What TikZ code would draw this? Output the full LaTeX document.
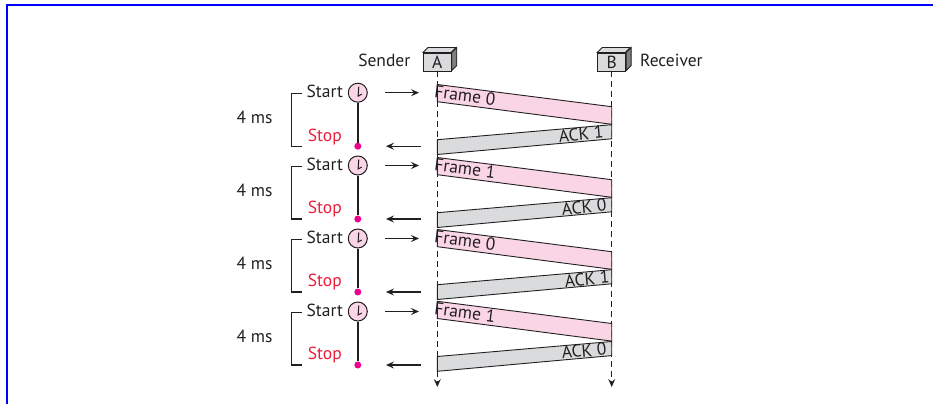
\documentclass[tikz,border=0pt]{standalone}
\usepackage{fontspec}
\setmainfont{PT Sans}
\usetikzlibrary{calc,arrows.meta}
\definecolor{inkdark}{HTML}{231F20}
\definecolor{framepink}{HTML}{F9D5E5}
\definecolor{ackgray}{HTML}{D9DBDC}
\definecolor{dotpink}{HTML}{EC008C}
\definecolor{stopred}{HTML}{ED1C3A}
\tikzset{
  lbl/.style={font=\fontsize{17.5}{20}\selectfont,text=inkdark,inner sep=0},
  station/.style={lbl,draw=inkdark,fill=ackgray,line width=0.9pt,minimum width=28pt,minimum height=18pt},
  band/.style={draw=inkdark,line width=0.9pt},
  wire/.style={draw=inkdark,line width=1.4pt},
  tip/.style={-{Stealth[length=8pt,width=7pt,inset=3pt]}},
  lifeline/.style={draw=inkdark,line width=0.9pt,dash pattern=on 6pt off 4pt,tip},
  timer/.style={circle,draw=inkdark,fill=framepink,line width=1pt,minimum size=19pt,inner sep=0},
  stopdot/.style={circle,fill=dotpink,minimum size=7pt,inner sep=0},
}
\begin{document}
\begin{tikzpicture}[x=1pt,y=-1pt]
  \useasboundingbox (0,0) rectangle (933,404);
  \coordinate (frameA) at (7,404);
  \coordinate (frameB) at (7,5);
  \coordinate (frameC) at (933,5);
  \draw[blue,line width=2pt] (frameA) -- (frameB) -- (frameC);
  \node[station] (A) at (437.3,62) {A};
  \node[station] (B) at (611.7,62) {B};
  \foreach \s in {A,B} {
    \fill[ackgray,draw=inkdark,line width=0.9pt] (\s.north west) -- ++(5,-5) -- ++(28,0) -- ++(-5,5) -- cycle;
    \fill[gray,draw=inkdark,line width=0.9pt] (\s.north east) -- ++(5,-5) -- ++(0,18) -- ++(-5,5) -- cycle;
  }
  \node[lbl,anchor=east] (sender) at (410.5,60.5) {Sender};
  \node[lbl,anchor=west] (receiver) at (640,60.5) {Receiver};
  \coordinate (Aend) at (437.3,387);
  \coordinate (Bend) at (611.7,387);
  \draw[lifeline] (A) -- (Aend);
  \draw[lifeline] (B) -- (Bend);
  \foreach \i/\t/\b/\f/\k/\ax in {1/92.7/92.5/Frame 0/ACK 1/581,2/165.5/165.5/Frame 1/ACK 0/584,3/238.5/237.5/Frame 0/ACK 1/587,4/311.5/309.3/Frame 1/ACK 0/584} {
    \fill[framepink,band] (437.3,\b-8) -- (611.7,\b+14.2) -- (611.7,\b+31.8) -- (437.3,\b+9.2) -- cycle;
    \fill[ackgray,band] (437.3,\b+47.2) -- (611.7,\b+32.2) -- (611.7,\b+46.3) -- (437.3,\b+62) -- cycle;
    \node[lbl,rotate=-7.3] (frame\i) at (465,\b+3) {\f};
    \node[lbl,rotate=5] (ack\i) at (\ax,\b+41.5) {\k};
    \node[timer] (clock\i) at (357.8,\t) {};
    \node[stopdot] (dot\i) at (357.8,\t+53.5) {};
    \draw[wire] (clock\i) -- (dot\i);
    \draw[wire,line width=1pt] ($(clock\i)+(1,-6)$) -- ($(clock\i)+(0.3,3.5)$) -- ($(clock\i)+(4,1.5)$);
    \node[lbl] (start\i) at (324.8,\t-1.5) {Start};
    \node[lbl,text=stopred] (stop\i) at (324.8,\t+44) {Stop};
    \node[lbl] (delay\i) at (254.5,\t+24.5) {4 ms};
    \coordinate (brtop\i) at (302,\t+1);
    \coordinate (brbot\i) at (302,\t+53.5);
    \draw[wire] (brtop\i) -- ++(-10.5,0) |- (brbot\i);
    \coordinate (outa\i) at (385,\t);
    \coordinate (outb\i) at (419,\t);
    \coordinate (ina\i) at (420.5,\t+53.5);
    \coordinate (inb\i) at (386,\t+53.5);
    \draw[wire,tip] (outa\i) -- (outb\i);
    \draw[wire,tip] (ina\i) -- (inb\i);
  }
\end{tikzpicture}
\end{document}
